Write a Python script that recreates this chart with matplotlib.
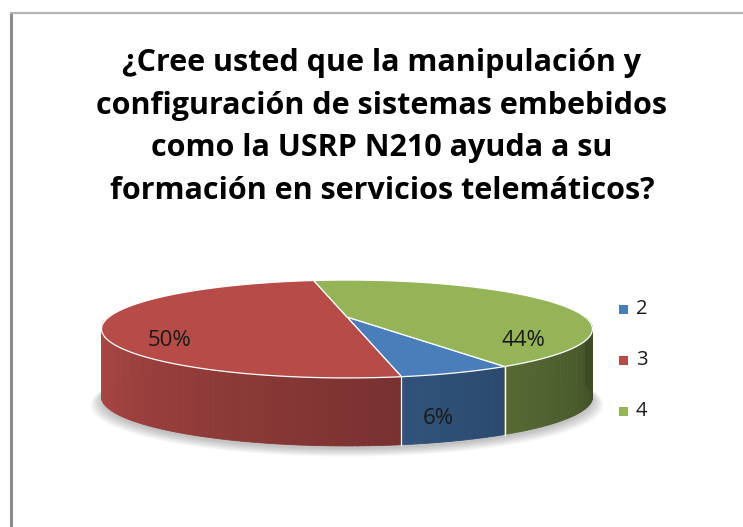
import numpy as np
import matplotlib.pyplot as plt
from matplotlib.patches import Polygon, Rectangle
from matplotlib.collections import PolyCollection
from matplotlib.colors import to_rgb

title = ("¿Cree usted que la manipulación y\n"
         "configuración de sistemas embebidos\n"
         "como la USRP N210 ayuda a su\n"
         "formación en servicios telemáticos?")
categories = ["2", "3", "4"]
values = [6, 50, 44]
colors = ["#4a7ebb", "#b64b48", "#94b457"]

# layout of the fake 3d pie (pixel space)
CX, CY = 347, 317
A, B = 238, 46
P = 0.245
DEPTH = 68
START = 301.6


def proj(t, r=1.0, z=0.0):
    t = np.radians(t)
    w = 1 + P * r * np.sin(t)
    x = CX + A * r * np.cos(t) / w
    y = CY - B * r * np.sin(t) / w + z
    return np.column_stack([np.atleast_1d(x), np.atleast_1d(y)])


def shade(t):
    t = t % 360
    return np.clip(0.95 - 0.0034 * (t - 194), 0.42, 0.97)


fig = plt.figure(figsize=(7.43, 5.27), dpi=100)
ax = fig.add_axes([0, 0, 1, 1])
ax.set_xlim(0, 743)
ax.set_ylim(527, 0)
ax.axis("off")

# chart border (only top and left are in frame)
ax.plot([11, 11], [13, 527], color="#8c8c8c", lw=2.2, solid_capstyle="butt")
ax.plot([10, 743], [13, 13], color="#b3b3b3", lw=1.6, solid_capstyle="butt")

ax.text(382, 127, title, ha="center", va="center", fontsize=22,
        fontweight="bold", family="Open Sans", linespacing=1.56,
        color="black")

fracs = np.array(values, dtype=float) / sum(values)
cum = np.concatenate([[0], np.cumsum(fracs)])
bounds = START - cum * 360

# soft shadow under the pie
ring = np.linspace(0, 360, 181)
for k in range(8):
    pts = proj(ring, 1.0 + 0.006 * k, DEPTH + 3 + k * 0.6)
    ax.add_patch(Polygon(pts, closed=True, fc="black", ec="none", alpha=0.03))

for i, col in enumerate(colors):
    hi, lo = bounds[i], bounds[i + 1]
    ts = np.linspace(lo, hi, max(int(abs(hi - lo)), 2) + 1)
    base = np.array(to_rgb(col))

    # outer wall, front half only
    quads, fcs = [], []
    for t0, t1 in zip(ts[:-1], ts[1:]):
        tm = (t0 + t1) / 2
        if not (180 <= tm % 360 <= 360):
            continue
        top = proj(np.array([t0, t1]))
        bot = proj(np.array([t1, t0]), z=DEPTH)
        quads.append(np.vstack([top, bot]))
        fcs.append(np.clip(base * shade(tm), 0, 1))
    if quads:
        ax.add_collection(PolyCollection(quads, facecolors=fcs, edgecolors=fcs,
                                         linewidths=0.6))

    # top face
    face = np.vstack([[CX, CY], proj(ts)])
    ax.add_patch(Polygon(face, closed=True, fc=col, ec="white", lw=0.9,
                         joinstyle="round", zorder=3))

    # data label, placed around the slice middle
    mid = np.radians((hi + lo) / 2)
    rad = 0.80 + 0.073 * np.cos(mid) - 0.04 * np.sin(mid)
    lift = DEPTH * (0.43 + 0.234 * np.cos(mid) - 0.32 * np.sin(mid))
    lx, ly = proj(np.degrees(mid), rad, lift)[0]
    ax.text(lx, ly, f"{values[i]}%", ha="center", va="center", fontsize=16,
            family="Open Sans", color="#1a1a1a", zorder=5)

# white seams on the wall between slices
for t in bounds:
    if 180 <= t % 360 <= 360:
        seg = np.vstack([proj(t), proj(t, z=DEPTH)])
        ax.plot(seg[:, 0], seg[:, 1], color="white", lw=0.9, zorder=2)

# legend
for i, (cat, col) in enumerate(zip(categories, colors)):
    y = 309 + i * 51
    ax.add_patch(Rectangle((619, y - 4.5), 9, 9, fc=col, ec="none"))
    ax.text(636, y, cat, ha="left", va="center", fontsize=14.5,
            family="Open Sans", color="#1a1a1a")

fig.savefig("out.png", dpi=100)
